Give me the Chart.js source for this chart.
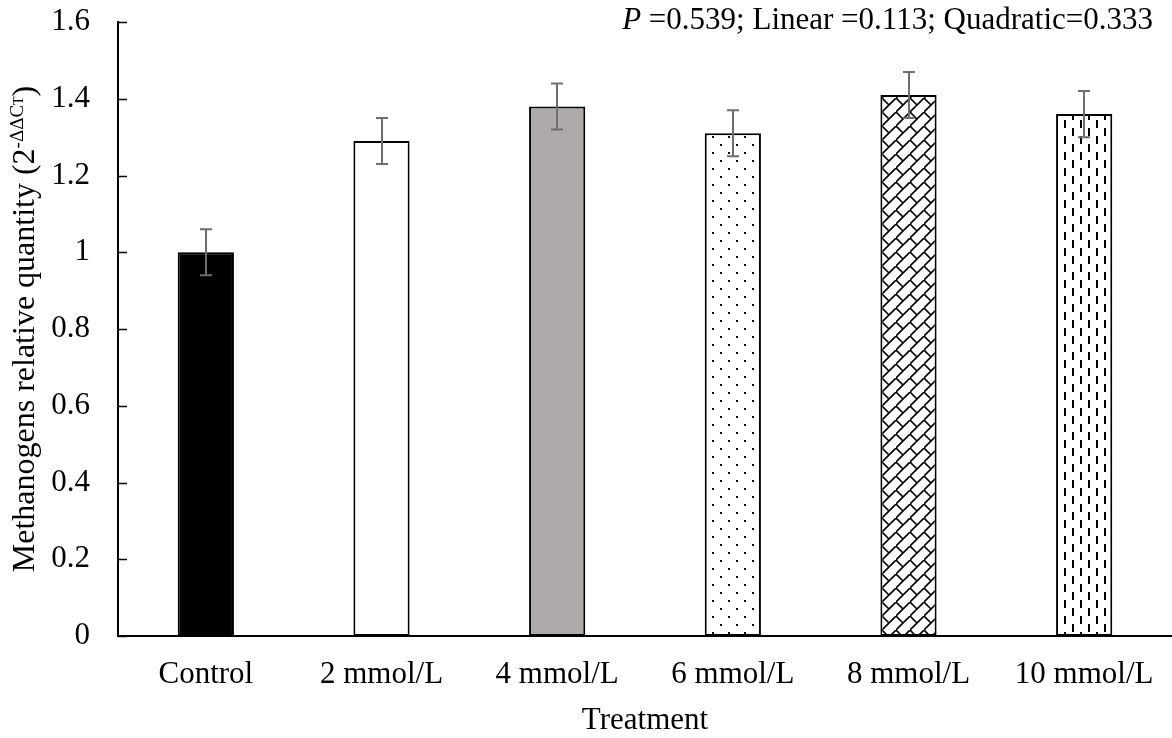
<!DOCTYPE html>
<html>
<head>
<meta charset="utf-8">
<title>Methanogens relative quantity</title>
<script src="https://cdn.jsdelivr.net/npm/chart.js@4.4.1/dist/chart.umd.min.js"></script>
<style>
	html, body { margin: 0; padding: 0; background: #fff; }
	#wrap { width: 1172px; height: 738px; }
</style>
</head>
<body>
<div id="wrap"><canvas id="methChart"></canvas></div>
<script>
// Данные: относительное количество метаногенов по группам
const treatments = ['Control', '2 mmol/L', '4 mmol/L', '6 mmol/L', '8 mmol/L', '10 mmol/L']
const relQuantity = [1.00, 1.29, 1.38, 1.31, 1.41, 1.36]
const stdErr = [0.06, 0.06, 0.06, 0.06, 0.06, 0.06]
const yTickValues = [0, 0.2, 0.4, 0.6, 0.8, 1, 1.2, 1.4, 1.6]
const statsNote = ['P', ' =0.539; Linear =0.113; Quadratic=0.333']

const FONT = '"Liberation Serif", "Times New Roman", serif'

document.addEventListener('DOMContentLoaded', function() {
	// Штриховки для столбцов
	function makePattern(size, draw) {
		const c = document.createElement('canvas')
		c.width = size
		c.height = size
		const g = c.getContext('2d')
		g.fillStyle = '#fff'
		g.fillRect(0, 0, size, size)
		g.fillStyle = '#000'
		g.strokeStyle = '#000'
		draw(g)
		return c.getContext('2d').createPattern(c, 'repeat')
	}

	const dots = makePattern(16, g => {
		g.fillRect(0, 0, 2, 2)
		g.fillRect(8, 8, 2, 2)
	})

	const brick = makePattern(14, g => {
		g.lineWidth = 1.6
		g.beginPath()
		g.moveTo(-1, 15); g.lineTo(15, -1)
		g.moveTo(0, 0); g.lineTo(7, 7)
		g.stroke()
	})

	const dashes = makePattern(16, g => {
		g.fillRect(0, 0, 2, 8)
		g.fillRect(8, 8, 2, 8)
	})

	const fills = ['#000', '#fff', '#aeaaaa', dots, brick, dashes]

	// Засечки оси Y внутрь области графика
	const innerTicks = {
		id: 'innerTicks',
		afterDraw(chart) {
			const ctx = chart.ctx
			const y = chart.scales.y
			const x0 = chart.chartArea.left
			ctx.save()
			ctx.strokeStyle = '#000'
			ctx.lineWidth = 1.5
			y.ticks.forEach(t => {
				const py = Math.round(y.getPixelForValue(t.value)) + 0.5
				ctx.beginPath()
				ctx.moveTo(x0, py)
				ctx.lineTo(x0 + 9, py)
				ctx.stroke()
			})
			ctx.restore()
		}
	}

	// Планки погрешностей
	const errorBars = {
		id: 'errorBars',
		afterDatasetsDraw(chart) {
			const ctx = chart.ctx
			const y = chart.scales.y
			const meta = chart.getDatasetMeta(0)
			ctx.save()
			ctx.strokeStyle = '#6e6e6e'
			ctx.lineWidth = 2
			meta.data.forEach((bar, i) => {
				const cx = Math.round(bar.x)
				const top = y.getPixelForValue(relQuantity[i] + stdErr[i])
				const bot = y.getPixelForValue(relQuantity[i] - stdErr[i])
				ctx.beginPath()
				ctx.moveTo(cx, top); ctx.lineTo(cx, bot)
				ctx.moveTo(cx - 6, top); ctx.lineTo(cx + 6, top)
				ctx.moveTo(cx - 6, bot); ctx.lineTo(cx + 6, bot)
				ctx.stroke()
			})
			ctx.restore()
		}
	}

	// Подписи осей и строка статистики
	const captions = {
		id: 'captions',
		afterDraw(chart) {
			const ctx = chart.ctx
			const area = chart.chartArea
			ctx.save()
			ctx.fillStyle = '#000'
			ctx.textBaseline = 'alphabetic'

			// Ось X
			ctx.font = `31px ${FONT}`
			ctx.textAlign = 'center'
			ctx.fillText('Treatment', (area.left + area.right) / 2, 729)

			// Статистика в правом верхнем углу
			ctx.textAlign = 'left'
			ctx.font = `italic 31px ${FONT}`
			const wP = ctx.measureText(statsNote[0]).width
			ctx.font = `31px ${FONT}`
			const wRest = ctx.measureText(statsNote[1]).width
			const startX = 1153 - wP - wRest
			ctx.font = `italic 31px ${FONT}`
			ctx.fillText(statsNote[0], startX, 29)
			ctx.font = `31px ${FONT}`
			ctx.fillText(statsNote[1], startX + wP, 29)

			// Ось Y, с надстрочным индексом
			const parts = [
				{ text: 'Methanogens relative quantity (2', size: 32, rise: 0 },
				{ text: '-ΔΔC', size: 19, rise: 11 },
				{ text: 'T', size: 14, rise: 11 },
				{ text: ')', size: 32, rise: 0 }
			]
			let total = 0
			parts.forEach(p => {
				ctx.font = `${p.size}px ${FONT}`
				p.w = ctx.measureText(p.text).width
				total += p.w
			})
			ctx.translate(34, (area.top + area.bottom) / 2)
			ctx.rotate(-Math.PI / 2)
			let px = -total / 2
			parts.forEach(p => {
				ctx.font = `${p.size}px ${FONT}`
				ctx.fillText(p.text, px, -p.rise)
				px += p.w
			})
			ctx.restore()
		}
	}

	const ctx = document.getElementById('methChart').getContext('2d')
	new Chart(ctx, {
		type: 'bar',
		data: {
			labels: treatments,
			datasets: [{
				data: relQuantity,
				backgroundColor: fills,
				borderColor: '#000',
				borderWidth: 2,
				borderSkipped: false,
				barPercentage: 0.32,
				categoryPercentage: 1
			}]
		},
		options: {
			responsive: true,
			maintainAspectRatio: false,
			animation: false,
			devicePixelRatio: 1,
			layout: { padding: { top: 22, right: 0, left: 0, bottom: 0 } },
			plugins: {
				legend: { display: false },
				tooltip: { enabled: false }
			},
			scales: {
				x: {
					grid: { display: false, drawTicks: false },
					border: { color: '#000', width: 2 },
					ticks: {
						color: '#000',
						font: { family: FONT, size: 31 },
						padding: 20,
						maxRotation: 0
					},
					afterFit(scale) {
						scale.height = 102
						scale.paddingLeft = 0
						scale.paddingRight = 0
					}
				},
				y: {
					min: 0,
					max: 1.6,
					afterBuildTicks(scale) {
						scale.ticks = yTickValues.map(v => ({ value: v }))
					},
					grid: { display: false, drawTicks: false },
					border: { color: '#000', width: 2 },
					ticks: {
						color: '#000',
						font: { family: FONT, size: 31 },
						padding: 28,
						callback: v => String(+v.toFixed(1))
					},
					afterFit(scale) {
						scale.width = 118
						scale.paddingTop = 0
						scale.paddingBottom = 0
					}
				}
			}
		},
		plugins: [innerTicks, errorBars, captions]
	})
})
</script>
</body>
</html>
